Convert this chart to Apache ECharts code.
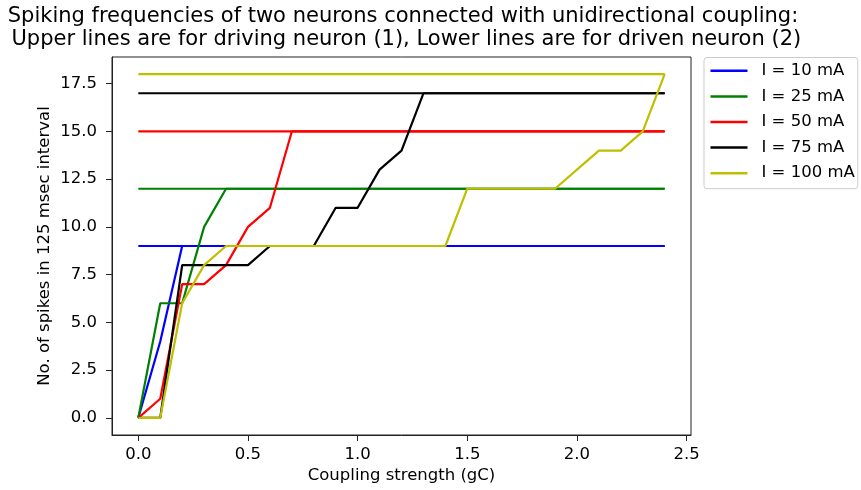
<!DOCTYPE html>
<html>
<head>
<meta charset="utf-8">
<script src="https://cdn.jsdelivr.net/npm/echarts@6/dist/echarts.min.js"></script>
<style>
  html, body { margin: 0; padding: 0; background: #fff; }
  #chart { width: 861px; height: 490px; }
</style>
</head>
<body>
<div id="chart"></div>
<script>
// Coupling strength gC (x values)
const couplingStrength = [0.0, 0.1, 0.2, 0.3, 0.4, 0.5, 0.6, 0.7, 0.8, 0.9, 1.0, 1.1, 1.2,
                          1.3, 1.4, 1.5, 1.6, 1.7, 1.8, 1.9, 2.0, 2.1, 2.2, 2.3, 2.4];

// Input currents and their colours
const currents = ['I = 10 mA', 'I = 25 mA', 'I = 50 mA', 'I = 75 mA', 'I = 100 mA'];
const colors = ['#0000ff', '#008000', '#ff0000', '#000000', '#bfbf00'];

// Driving neuron (1): spike count does not depend on coupling
const drivingSpikes = [9, 12, 15, 17, 18];

// Driven neuron (2): spike count for each coupling strength
const driven10 = [0, 4, 9, 9, 9, 9, 9, 9, 9, 9, 9, 9, 9, 9, 9, 9, 9, 9, 9, 9, 9, 9, 9, 9, 9];
const driven25 = [0, 6, 6, 10, 12, 12, 12, 12, 12, 12, 12, 12, 12, 12, 12, 12, 12, 12, 12, 12, 12, 12, 12, 12, 12];
const driven50 = [0, 1, 7, 7, 8, 10, 11, 15, 15, 15, 15, 15, 15, 15, 15, 15, 15, 15, 15, 15, 15, 15, 15, 15, 15];
const driven75 = [0, 0, 8, 8, 8, 8, 9, 9, 9, 11, 11, 13, 14, 17, 17, 17, 17, 17, 17, 17, 17, 17, 17, 17, 17];
const driven100 = [0, 0, 6, 8, 9, 9, 9, 9, 9, 9, 9, 9, 9, 9, 9, 12, 12, 12, 12, 12, 13, 14, 14, 15, 18];
const drivenSpikes = [driven10, driven25, driven50, driven75, driven100];

// Tick positions
const xTicks = [0, 0.5, 1.0, 1.5, 2.0, 2.5];
const yTicks = [0, 2.5, 5, 7.5, 10, 12.5, 15, 17.5];

const FONT = 'DejaVu Sans';
const chart = echarts.init(document.getElementById('chart'), null, { renderer: 'canvas' });

const xFirst = couplingStrength[0];
const xLast = couplingStrength[couplingStrength.length - 1];

// One flat line for the driving neuron and one curve for the driven neuron per current
const series = [];
currents.forEach((name, i) => {
  series.push({
    name: name,
    type: 'line',
    symbol: 'none',
    lineStyle: { color: colors[i], width: 2.2 },
    itemStyle: { color: colors[i] },
    data: [[xFirst, drivingSpikes[i]], [xLast, drivingSpikes[i]]]
  });
  series.push({
    name: name,
    type: 'line',
    symbol: 'none',
    lineStyle: { color: colors[i], width: 2.2 },
    itemStyle: { color: colors[i] },
    data: couplingStrength.map((x, k) => [x, drivenSpikes[i][k]])
  });
});

chart.setOption({
  animation: false,
  backgroundColor: '#ffffff',
  textStyle: { fontFamily: FONT },
  grid: {
    left: 112, right: 170, top: 57, bottom: 55,
    show: true, borderColor: '#222', borderWidth: 1, backgroundColor: 'transparent'
  },
  graphic: [
    {
      type: 'text', x: 403, y: 5,
      style: {
        text: 'Spiking frequencies of two neurons connected with unidirectional coupling:\n Upper lines are for driving neuron (1), Lower lines are for driven neuron (2)',
        textAlign: 'center', font: '21px "DejaVu Sans"', lineHeight: 23, fill: '#000'
      }
    }
  ],
  legend: {
    orient: 'vertical',
    left: 704, top: 57.5,
    data: currents,
    icon: 'rect',
    itemWidth: 37, itemHeight: 2.5,
    itemGap: 6.6,
    padding: [3.8, 3, 6, 6.5],
    backgroundColor: '#ffffff',
    borderColor: '#cccccc', borderWidth: 1, borderRadius: 3,
    formatter: name => '{t|' + name + '}',
    textStyle: {
      fontFamily: FONT, fontSize: 16.5, color: '#000', lineHeight: 19,
      rich: { t: { fontFamily: FONT, fontSize: 16.5, color: '#000', lineHeight: 19, padding: [0, 0, 0, 9] } }
    }
  },
  xAxis: {
    type: 'value',
    min: -0.12, max: 2.52,
    name: 'Coupling strength (gC)',
    nameLocation: 'middle', nameGap: 32,
    nameMoveOverlap: false,
    nameTextStyle: { fontFamily: FONT, fontSize: 16.5, color: '#000' },
    axisLine: { show: true, onZero: false, lineStyle: { color: '#222', width: 1 } },
    axisTick: { show: true, inside: false, length: 6, customValues: xTicks, lineStyle: { color: '#222', width: 1 } },
    axisLabel: { customValues: xTicks, margin: 11, fontFamily: FONT, fontSize: 16.5, color: '#000',
                 formatter: v => v.toFixed(1) },
    splitLine: { show: false }
  },
  yAxis: {
    type: 'value',
    min: -0.9, max: 18.9,
    name: 'No. of spikes in 125 msec interval',
    nameLocation: 'middle', nameGap: 59,
    nameMoveOverlap: false,
    nameTextStyle: { fontFamily: FONT, fontSize: 16.5, color: '#000' },
    axisLine: { show: true, onZero: false, lineStyle: { color: '#222', width: 1 } },
    axisTick: { show: true, inside: false, length: 6, customValues: yTicks, lineStyle: { color: '#222', width: 1 } },
    axisLabel: { customValues: yTicks, margin: 15, fontFamily: FONT, fontSize: 16.5, color: '#000',
                 formatter: v => v.toFixed(1) },
    splitLine: { show: false }
  },
  series: series
});
</script>
</body>
</html>
